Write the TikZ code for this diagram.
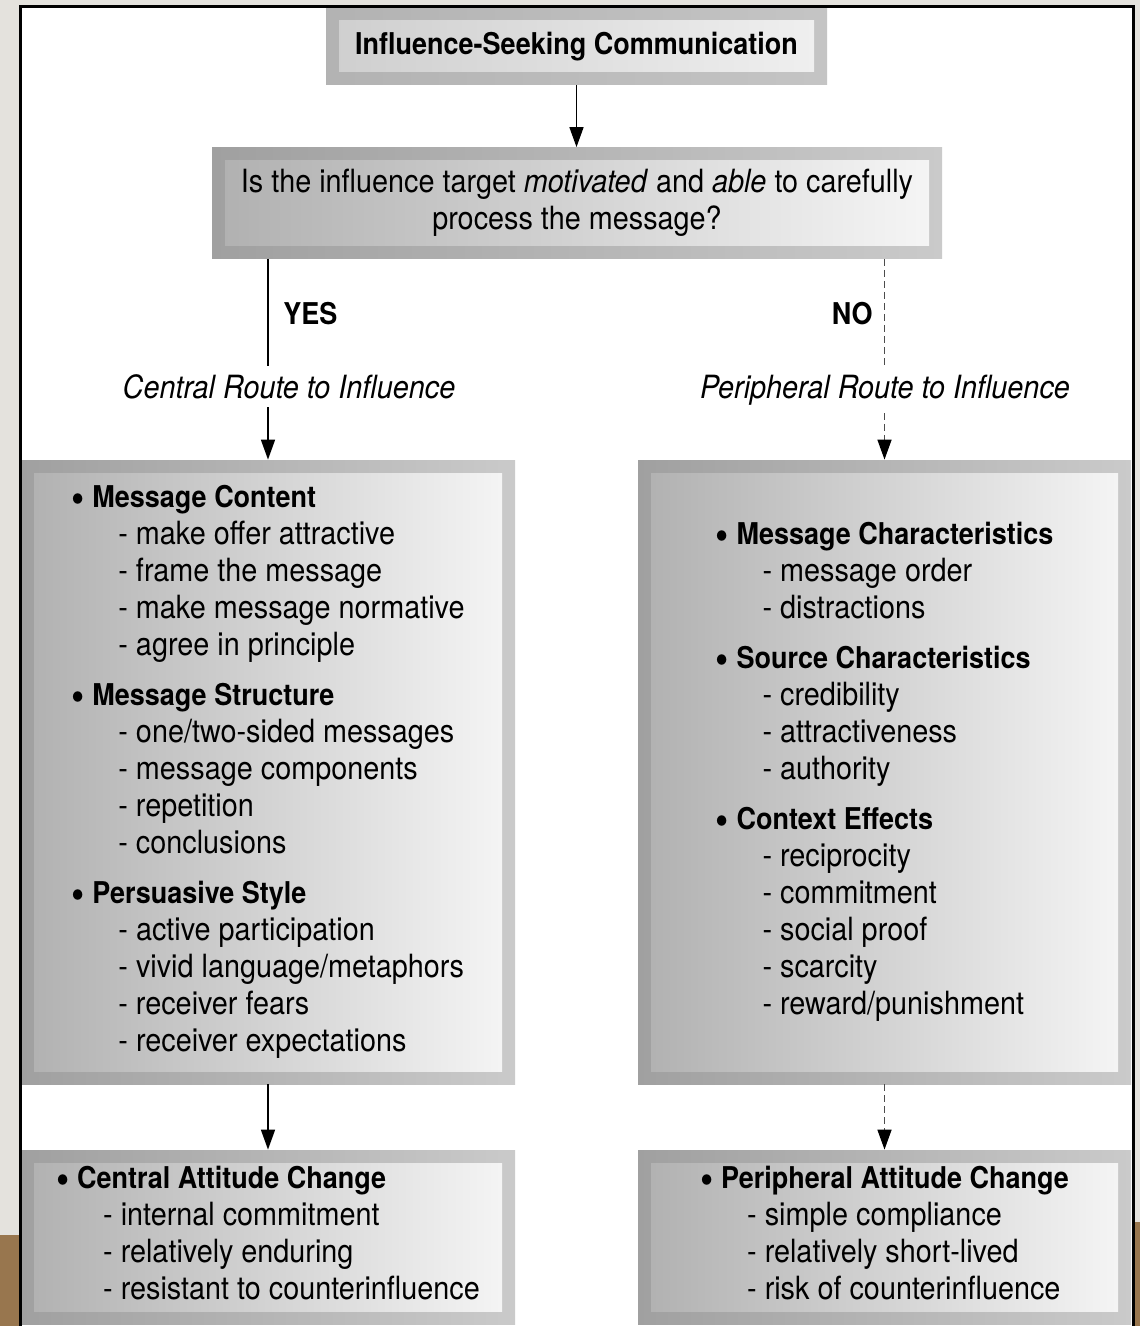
\documentclass[tikz,border=0pt]{standalone}
\usepackage{fontspec}
\setmainfont{TeX Gyre Heros}[FakeStretch=0.9]
\definecolor{fond}{RGB}{228,226,221}
\definecolor{bois}{RGB}{152,118,78}
\definecolor{cadreA}{RGB}{160,160,160}
\definecolor{cadreB}{RGB}{202,202,202}
\definecolor{fondA}{RGB}{176,176,176}
\definecolor{fondB}{RGB}{246,246,246}
\usetikzlibrary{arrows.meta,positioning}

\newcommand{\bodysize}{\fontsize{16}{18.5}\selectfont}
\newcommand{\headsize}{\fontsize{15}{18.5}\selectfont\bfseries}
\newcommand{\bhead}[1]{\makebox[10.5pt][l]{\fontsize{21}{18.5}\selectfont\raisebox{-3pt}{\textbullet}}{\headsize #1}}
\newcommand{\bline}[1]{\hspace*{23.5pt}- #1}
\newcommand{\blist}[1]{\begin{tabular}[t]{@{}l@{}}#1\end{tabular}}

\tikzset{
	panel/.style 2 args={inner sep=0pt, left color=cadreA, right color=cadreB,
		path picture={\shade[left color=#1,right color=#2]
			([shift={(6.5pt,-6.5pt)}]path picture bounding box.north west) rectangle
			([shift={(-6.5pt,6.5pt)}]path picture bounding box.south east);}},
	flow/.style={line width=0.8pt, -{Triangle[length=10pt,width=7pt,color=black]}},
	flowdash/.style={flow, black!70, dash pattern=on 3.5pt off 2pt},
	route/.style={fill=white, font=\bodysize\itshape, inner xsep=2pt, inner ysep=4pt},
	answer/.style={font=\headsize, inner sep=0pt}
}

\begin{document}
\begin{tikzpicture}[x=0.5pt,y=-0.5pt,font=\bodysize]

	\useasboundingbox (0,0) rectangle (1140,1326);
	\fill[fond] (0,0) rectangle (1140,1326);
	\fill[bois] (0,1235) rectangle (19,1326);
	\fill[bois] (1135,1222) rectangle (1140,1326);
	\fill[white] (20,7) rectangle (1133,1326);

	\node[panel={black!19}{black!6}, left color=black!30, right color=black!23,
		minimum width=250.5pt, minimum height=38.5pt] (title) at (576.5,46.5)
		{\headsize Influence-Seeking Communication};

	\node[panel={fondA}{fondB}, minimum width=365pt, minimum height=55.5pt,
		align=center] (question) at (577,203)
		{Is the influence target \textit{motivated} and \textit{able} to carefully\\
		process the message?};

	\node[panel={fondA}{fondB}, minimum width=247pt, minimum height=312pt]
		(central) at (268,772) {\blist{
		\bhead{Message Content}\\
		\bline{make offer attractive}\\
		\bline{frame the message}\\
		\bline{make message normative}\\
		\bline{agree in principle}\\[6.5pt]
		\bhead{Message Structure}\\
		\bline{one/two-sided messages}\\
		\bline{message components}\\
		\bline{repetition}\\
		\bline{conclusions}\\[6.5pt]
		\bhead{Persuasive Style}\\
		\bline{active participation}\\
		\bline{vivid language/metaphors}\\
		\bline{receiver fears}\\
		\bline{receiver expectations}}};

	\node[panel={fondA}{fondB}, minimum width=246.5pt, minimum height=312pt]
		(peripheral) at (884.5,772) {\blist{
		\bhead{Message Characteristics}\\
		\bline{message order}\\
		\bline{distractions}\\[6.5pt]
		\bhead{Source Characteristics}\\
		\bline{credibility}\\
		\bline{attractiveness}\\
		\bline{authority}\\[6.5pt]
		\bhead{Context Effects}\\
		\bline{reciprocity}\\
		\bline{commitment}\\
		\bline{social proof}\\
		\bline{scarcity}\\
		\bline{reward/punishment}}};

	\node[panel={fondA}{fondB}, minimum width=247pt, minimum height=87pt]
		(centralout) at (268,1237) {\blist{
		\bhead{Central Attitude Change}\\
		\bline{internal commitment}\\
		\bline{relatively enduring}\\
		\bline{resistant to counterinfluence}}};

	\node[panel={fondA}{fondB}, minimum width=246.5pt, minimum height=87pt]
		(periphout) at (884.5,1237) {\blist{
		\bhead{Peripheral Attitude Change}\\
		\bline{simple compliance}\\
		\bline{relatively short-lived}\\
		\bline{risk of counterinfluence}}};

	% routes
	\draw[flow] (title.south) -- (title.south |- question.north);
	\draw[flow] (question.south -| central.north) -- (central.north);
	\draw[flowdash] (question.south -| peripheral.north) -- (peripheral.north);
	\draw[flow] (central.south) -- (centralout.north);
	\draw[flowdash] (peripheral.south) -- (periphout.north);

	\node[answer, anchor=base west] (yes) at (283,325) {YES};
	\node[answer, anchor=base east] (no) at (873,325) {NO};
	\node[route, anchor=base] (clabel) at (289,398) {Central Route to Influence};
	\node[route, anchor=base] (plabel) at (885,398) {Peripheral Route to Influence};

	\draw[line width=1.5pt] (20,1326) |- (1133,7) -- (1133,1326);

\end{tikzpicture}
\end{document}
